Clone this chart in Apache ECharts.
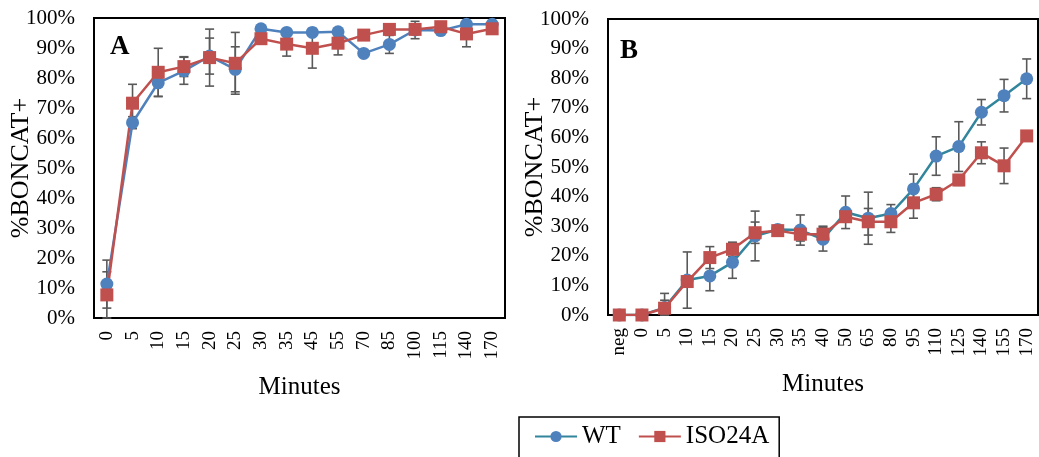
<!DOCTYPE html>
<html>
<head>
<meta charset="utf-8">
<script src="https://cdn.jsdelivr.net/npm/echarts@6/dist/echarts.min.js"></script>
<style>
  html, body { margin: 0; padding: 0; background: #fff; }
  #chart { width: 1039px; height: 457px; }
</style>
</head>
<body>
<div id="chart"></div>
<script>
// Panel A: sampling times (minutes) and %BONCAT+ with error (percent)
const minutesA = ['0','5','10','15','20','25','30','35','45','55','70','85','100','115','140','170'];
const wtA      = [11.3, 65.1, 78.4, 82.4, 87.3, 82.9, 96.4, 95.2, 95.2, 95.4, 88.2, 91.2, 96.0, 95.8, 97.9, 97.9];
const wtErrA   = [8.0, 2.0, 4.6, 4.5, 6.0, 7.5, 1.0, 1.0, 1.0, 1.0, 1.0, 3.0, 2.9, 1.0, 1.0, 1.0];
const isoA     = [7.7, 71.6, 81.9, 83.8, 86.8, 84.9, 93.1, 91.3, 89.9, 91.6, 94.3, 96.2, 96.2, 97.1, 94.7, 96.4];
const isoErrA  = [7.7, 6.3, 8.0, 3.3, 9.5, 10.3, 1.5, 4.0, 6.6, 3.9, 1.0, 1.0, 1.0, 1.0, 4.3, 1.0];

// Panel B
const minutesB = ['neg','0','5','10','15','20','25','30','35','40','50','65','80','95','110','125','140','155','170'];
const wtB      = [0, 0, 2.5, 11.8, 13.2, 17.8, 26.7, 28.9, 28.7, 25.6, 34.7, 32.7, 34.3, 42.6, 53.7, 56.9, 68.5, 74.1, 79.8];
const wtErrB   = [0, 0, 4.8, 9.5, 5.0, 5.4, 8.4, 1.0, 5.1, 4.0, 5.5, 8.8, 3.0, 5.0, 6.5, 8.4, 4.3, 5.5, 6.7];
const isoB     = [0, 0, 2.3, 11.3, 19.4, 22.2, 27.8, 28.5, 27.3, 27.3, 33.2, 31.5, 31.5, 37.9, 40.8, 45.6, 54.8, 50.4, 60.5];
const isoErrB  = [0, 0, 2.7, 1.0, 3.7, 2.4, 3.6, 1.0, 2.3, 2.7, 1.0, 4.5, 3.6, 5.2, 2.2, 1.8, 3.7, 6.0, 1.0];

const yTicks = [0, 10, 20, 30, 40, 50, 60, 70, 80, 90, 100];

const FONT = 'Liberation Serif';
const BLUE = '#4F81BD';
const TEAL = '#31859C';
const RED = '#C0504D';
const BAR = '#595959';

function errorBars(values, errs) {
  return values.map((v, i) => [i, v, errs[i]]);
}

function renderErrorBar(params, api) {
  const idx = api.value(0);
  const v = api.value(1);
  const e = api.value(2);
  if (!e) return null;
  const hi = api.coord([idx, Math.min(100, v + e)]);
  const lo = api.coord([idx, Math.max(0, v - e)]);
  const cap = 4.5;
  const style = { stroke: BAR, lineWidth: 1.6 };
  return {
    type: 'group',
    children: [
      { type: 'line', shape: { x1: hi[0], y1: hi[1], x2: lo[0], y2: lo[1] }, style },
      { type: 'line', shape: { x1: hi[0] - cap, y1: hi[1], x2: hi[0] + cap, y2: hi[1] }, style },
      { type: 'line', shape: { x1: lo[0] - cap, y1: lo[1], x2: lo[0] + cap, y2: lo[1] }, style }
    ]
  };
}

function xAxisFor(cats, gridIndex) {
  return {
    type: 'category',
    gridIndex,
    data: cats,
    boundaryGap: true,
    axisLine: { show: false },
    axisTick: { show: false },
    axisLabel: { interval: 0, rotate: 90, margin: 13, fontFamily: FONT, fontSize: 19, color: '#000' },
    name: 'Minutes',
    nameLocation: 'middle',
    nameGap: 57,
    nameMoveOverlap: false,
    nameTextStyle: { fontFamily: FONT, fontSize: 25, color: '#000' }
  };
}

function yAxisFor(gridIndex) {
  return {
    type: 'value',
    gridIndex,
    min: yTicks[0],
    max: yTicks[yTicks.length - 1],
    interval: yTicks[1] - yTicks[0],
    axisLine: { show: false },
    axisTick: { show: false },
    splitLine: { show: false },
    axisLabel: { margin: 19, fontFamily: FONT, fontSize: 21, color: '#000', formatter: v => v + '%' },
    name: '%BONCAT+',
    nameLocation: 'middle',
    nameGap: 60,
    nameMoveOverlap: false,
    nameTextStyle: { fontFamily: FONT, fontSize: 26, color: '#000' }
  };
}

function lineSeries(name, data, axisIdx, lineColor, markColor, symbol) {
  return {
    type: 'line',
    name,
    data,
    xAxisIndex: axisIdx,
    yAxisIndex: axisIdx,
    symbol,
    symbolSize: 13,
    showAllSymbol: true,
    lineStyle: { color: lineColor, width: 2.5 },
    itemStyle: { color: markColor },
    emphasis: { disabled: true },
    z: 3
  };
}

function barSeries(values, errs, axisIdx) {
  return {
    type: 'custom',
    xAxisIndex: axisIdx,
    yAxisIndex: axisIdx,
    data: errorBars(values, errs),
    renderItem: renderErrorBar,
    encode: { x: 0, y: 1 },
    silent: true,
    z: 1
  };
}

const chart = echarts.init(document.getElementById('chart'), null, { renderer: 'canvas' });

const gridCommon = { show: true, borderColor: '#000', borderWidth: 2, backgroundColor: 'transparent', containLabel: false, outerBoundsMode: 'none' };

chart.setOption({
  animation: false,
  backgroundColor: '#fff',
  grid: [
    Object.assign({ left: 94, top: 18, width: 411, height: 300 }, gridCommon),
    Object.assign({ left: 608, top: 19, width: 430, height: 296 }, gridCommon)
  ],
  xAxis: [xAxisFor(minutesA, 0), xAxisFor(minutesB, 1)],
  yAxis: [yAxisFor(0), yAxisFor(1)],
  legend: {
    data: ['WT', 'ISO24A'],
    left: 519,
    top: 417,
    orient: 'horizontal',
    itemWidth: 42,
    itemHeight: 14,
    itemGap: 17,
    padding: [7, 10, 60, 15],
    borderColor: '#000',
    borderWidth: 1.5,
    textStyle: { fontFamily: FONT, fontSize: 25, color: '#000' }
  },
  graphic: [
    { type: 'text', left: 110, top: 34, style: { text: 'A', font: 'bold 27px "Liberation Serif"', fill: '#000' } },
    { type: 'text', left: 620, top: 38, style: { text: 'B', font: 'bold 27px "Liberation Serif"', fill: '#000' } }
  ],
  series: [
    barSeries(wtB, wtErrB, 1),
    barSeries(isoB, isoErrB, 1),
    lineSeries('WT', wtB, 1, TEAL, BLUE, 'circle'),
    lineSeries('ISO24A', isoB, 1, RED, RED, 'rect'),
    barSeries(wtA, wtErrA, 0),
    barSeries(isoA, isoErrA, 0),
    lineSeries('WT', wtA, 0, BLUE, BLUE, 'circle'),
    lineSeries('ISO24A', isoA, 0, RED, RED, 'rect')
  ]
});
</script>
</body>
</html>
